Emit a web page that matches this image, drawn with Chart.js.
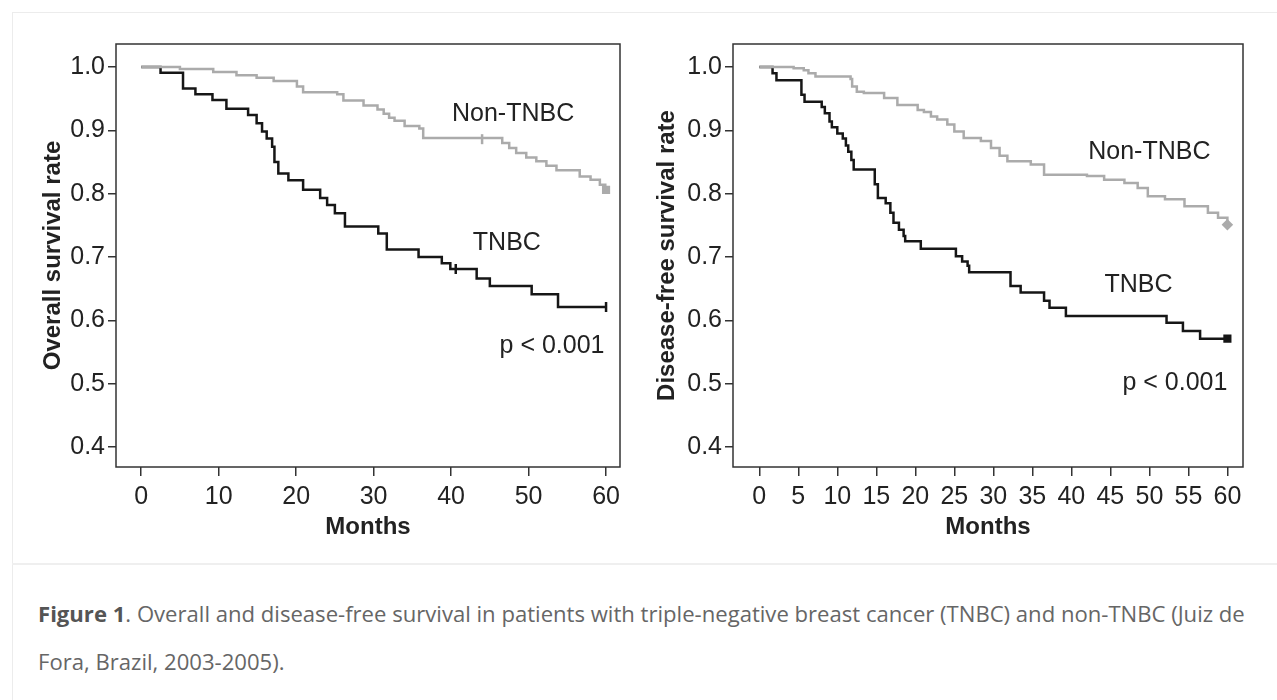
<!DOCTYPE html>
<html>
<head>
<meta charset="utf-8">
<script src="https://cdn.jsdelivr.net/npm/chart.js@4.4.1/dist/chart.umd.min.js"></script>
<style>
  html, body { margin: 0; padding: 0; background: #fff; }
  #page { position: relative; width: 1277px; height: 700px; overflow: hidden; background: #fff; }
  #card { position: absolute; left: 12px; top: 12px; width: 1300px; height: 750px;
          border-left: 1px solid #ececec; border-top: 1px solid #ececec; }
  #divider { position: absolute; left: 12px; top: 563px; width: 1300px; border-top: 2px solid #efefef; }
  #osChart { position: absolute; left: 0; top: 0; }
  #dfsChart { position: absolute; left: 640px; top: 0; }
  #caption { position: absolute; left: 38px; top: 589px; font-family: "Open Sans", sans-serif;
             font-size: 22.1px; line-height: 48px; color: #666; white-space: nowrap; }
  #caption b { color: #555; font-weight: 700; }
</style>
</head>
<body>
<div id="page">
  <div id="card"></div>
  <div id="divider"></div>
  <canvas id="osChart" width="640" height="560"></canvas>
  <canvas id="dfsChart" width="637" height="560"></canvas>
  <div id="caption"><b>Figure 1</b>. Overall and disease-free survival in patients with triple-negative breast cancer (TNBC) and non-TNBC (Juiz de<br>Fora, Brazil, 2003-2005).</div>
</div>
<script>
// Overall survival (left panel)
const osTnbcTime = [0,2.5,5.4,7.0,9.2,11.0,13.8,14.9,15.6,16.2,16.9,17.2,17.7,19.0,20.9,23.1,24.0,25.0,26.3,30.6,31.7,35.8,38.8,39.9,43.3,45.0,50.4,53.8,60];
const osTnbcRate = [1.0,0.991,0.966,0.957,0.948,0.934,0.924,0.911,0.898,0.887,0.874,0.850,0.832,0.821,0.806,0.793,0.782,0.769,0.748,0.737,0.712,0.700,0.690,0.681,0.666,0.654,0.641,0.621,0.621];
const osNonTime = [0,5.0,9.3,12.3,14.9,17.1,20.1,20.9,25.3,26.1,28.7,30.5,31.3,32.0,32.7,34.0,35.9,36.4,46.6,47.5,48.4,49.7,51.0,52.3,53.6,56.6,58.0,59.2,59.9,60];
const osNonRate = [1.0,0.997,0.992,0.987,0.983,0.978,0.969,0.960,0.957,0.947,0.939,0.933,0.926,0.920,0.915,0.907,0.903,0.888,0.880,0.872,0.864,0.857,0.851,0.844,0.837,0.827,0.822,0.814,0.806,0.806];
const osTnbcCensorTime = [40.6, 60];
const osTnbcCensorRate = [0.681, 0.621];
const osNonCensorTime = [44.0];
const osNonCensorRate = [0.886];
const osNonEndTime = [60];
const osNonEndRate = [0.806];
const osXTicks = [0,10,20,30,40,50,60];

// Disease-free survival (right panel)
const dfsTnbcTime = [0,1.7,2.2,5.4,5.8,8.0,8.4,9.0,9.3,10.0,10.7,11.1,11.4,11.8,12.1,14.8,15.2,16.2,16.8,17.2,17.9,18.5,18.7,20.7,25.2,26.0,26.7,26.9,32.2,33.5,36.5,37.2,39.3,52.2,54.3,56.5,60];
const dfsTnbcRate = [1.0,0.990,0.979,0.956,0.945,0.937,0.927,0.914,0.905,0.895,0.887,0.876,0.866,0.853,0.838,0.815,0.793,0.785,0.770,0.754,0.743,0.733,0.725,0.713,0.701,0.693,0.686,0.676,0.654,0.644,0.631,0.620,0.607,0.596,0.583,0.571,0.571];
const dfsNonTime = [0,4.4,5.7,6.3,7.2,11.7,11.9,12.5,13.4,16.0,17.7,20.3,21.1,22.0,22.8,24.1,25.0,26.2,28.4,29.7,30.8,31.8,34.8,36.5,42.0,44.2,46.8,48.5,49.8,52.0,54.5,57.5,58.8,60];
const dfsNonRate = [1.0,0.998,0.995,0.990,0.985,0.981,0.969,0.961,0.959,0.951,0.940,0.932,0.929,0.922,0.917,0.909,0.898,0.888,0.883,0.872,0.860,0.851,0.846,0.830,0.828,0.822,0.817,0.809,0.796,0.791,0.780,0.770,0.762,0.751];
const dfsTnbcEndTime = [60];
const dfsTnbcEndRate = [0.571];
const dfsNonEndTime = [60];
const dfsNonEndRate = [0.751];
const dfsXTicks = [0,5,10,15,20,25,30,35,40,45,50,55,60];

const yTicks = [0.4,0.5,0.6,0.7,0.8,0.9,1.0];

const FONT = '"Liberation Sans", Arial, Helvetica, sans-serif';
const BLACK = '#161616';
const GREY = '#ababab';

function pts(t, r){
    return t.map((v, i) => ({x: v, y: r[i]}));
}

const framePlugin = {
    id: 'frame',
    afterDraw(chart, args, opts){
        const {ctx, chartArea: a, scales: {x, y}} = chart;
        ctx.save();
        ctx.strokeStyle = '#333';
        ctx.lineWidth = 1.5;
        ctx.strokeRect(a.left, a.top, a.right - a.left, a.bottom - a.top);
        ctx.font = '25px ' + FONT;
        ctx.fillStyle = '#222';
        ctx.textBaseline = 'middle';
        opts.labels.forEach(l => {
            ctx.textAlign = l.align;
            ctx.fillText(l.text, x.getPixelForValue(l.x), y.getPixelForValue(l.y));
        });
        ctx.restore();
    }
};

function MakeKmChart(id, o){
    const ctx = document.getElementById(id).getContext('2d');
    const line = (data, color) => ({type: 'line', data: data, borderColor: color, borderWidth: 2.5,
        stepped: 'before', pointRadius: 0, fill: false, tension: 0});
    const marks = (data, color, style, rot, r) => ({type: 'scatter', data: data, pointStyle: style,
        rotation: rot, pointRadius: r, borderColor: color, backgroundColor: color, borderWidth: 2.5});
    return new Chart(ctx, {
        type: 'line',
        data: {datasets: [
            line(o.non, GREY),
            marks(o.nonCensor, GREY, 'line', 90, 5),
            marks(o.nonEnd, GREY, o.nonEndStyle, 0, 4),
            line(o.tnbc, BLACK),
            marks(o.tnbcCensor, BLACK, o.tnbcEndStyle, o.tnbcEndRot, o.tnbcEndR)
        ]},
        options: {
            responsive: false,
            animation: false,
            devicePixelRatio: 1,
            layout: {padding: {left: o.padLeft, right: o.padRight, top: 44, bottom: 17}},
            plugins: {legend: {display: false}, tooltip: {enabled: false}, frame: {labels: o.labels}},
            scales: {
                x: {
                    type: 'linear', min: o.xMin, max: o.xMax,
                    afterBuildTicks: s => { s.ticks = o.xTicks.map(v => ({value: v})); },
                    afterFit: s => { s.height = 76; },
                    ticks: {autoSkip: false, maxRotation: 0, padding: 6, color: '#222',
                        font: {family: FONT, size: 25}, callback: v => String(v)},
                    grid: {drawOnChartArea: false, tickLength: 9, color: '#333', lineWidth: 1.5},
                    border: {display: false},
                    title: {display: true, text: 'Months', color: '#222', padding: {top: 0, bottom: 1},
                        font: {family: FONT, size: 24, weight: 'bold'}}
                },
                y: {
                    type: 'linear', min: 0.3684, max: 1.0363,
                    afterBuildTicks: s => { s.ticks = yTicks.map(v => ({value: v})); },
                    afterFit: s => { s.width = o.yWidth; },
                    ticks: {padding: 3, color: '#222', font: {family: FONT, size: 25},
                        callback: v => v.toFixed(1)},
                    grid: {drawOnChartArea: false, tickLength: 8, color: '#333', lineWidth: 1.5},
                    border: {display: false},
                    title: {display: true, text: o.yTitle, color: '#222', padding: {top: 4, bottom: 4},
                        font: {family: FONT, size: 24, weight: 'bold'}}
                }
            }
        },
        plugins: [framePlugin]
    });
}

MakeKmChart('osChart', {
    tnbc: pts(osTnbcTime, osTnbcRate),
    non: pts(osNonTime, osNonRate),
    tnbcCensor: pts(osTnbcCensorTime, osTnbcCensorRate),
    nonCensor: pts(osNonCensorTime, osNonCensorRate),
    nonEnd: pts(osNonEndTime, osNonEndRate),
    nonEndStyle: 'rect', tnbcEndStyle: 'line', tnbcEndRot: 90, tnbcEndR: 5,
    xTicks: osXTicks, xMin: -3.25, xMax: 61.8,
    padLeft: 35, padRight: 20, yWidth: 81,
    yTitle: 'Overall survival rate',
    labels: [
        {text: 'Non-TNBC', x: 48.0, y: 0.926, align: 'center'},
        {text: 'TNBC', x: 47.2, y: 0.722, align: 'center'},
        {text: 'p < 0.001', x: 59.8, y: 0.559, align: 'right'}
    ]
});

MakeKmChart('dfsChart', {
    tnbc: pts(dfsTnbcTime, dfsTnbcRate),
    non: pts(dfsNonTime, dfsNonRate),
    tnbcCensor: pts(dfsTnbcEndTime, dfsTnbcEndRate),
    nonCensor: [],
    nonEnd: pts(dfsNonEndTime, dfsNonEndRate),
    nonEndStyle: 'rectRot', tnbcEndStyle: 'rect', tnbcEndRot: 0, tnbcEndR: 4,
    xTicks: dfsXTicks, xMin: -3.37, xMax: 62.0,
    padLeft: 9, padRight: 34, yWidth: 84,
    yTitle: 'Disease-free survival rate',
    labels: [
        {text: 'Non-TNBC', x: 50.0, y: 0.866, align: 'center'},
        {text: 'TNBC', x: 48.6, y: 0.656, align: 'center'},
        {text: 'p < 0.001', x: 60.0, y: 0.501, align: 'right'}
    ]
});
</script>
</body>
</html>
